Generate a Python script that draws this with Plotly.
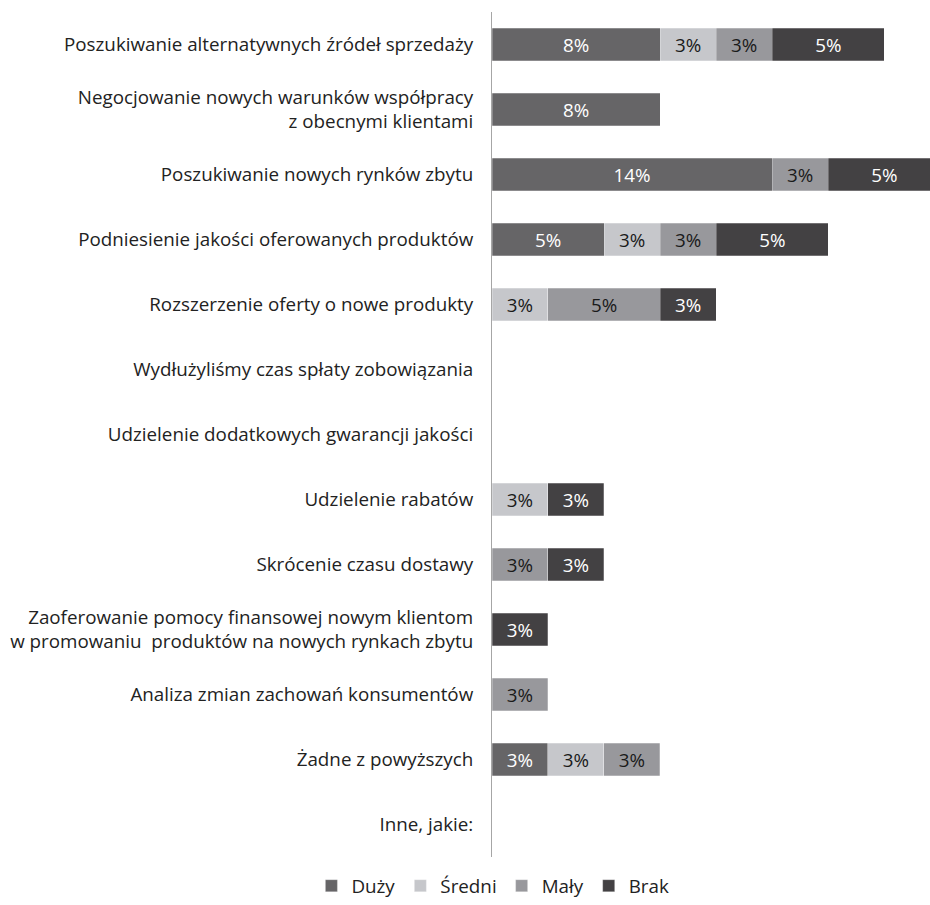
import plotly.graph_objects as go

# Response categories, top to bottom
categories = [
    "Poszukiwanie alternatywnych źródeł sprzedaży",
    "Negocjowanie nowych warunków współpracy<br>z obecnymi klientami",
    "Poszukiwanie nowych rynków zbytu",
    "Podniesienie jakości oferowanych produktów",
    "Rozszerzenie oferty o nowe produkty",
    "Wydłużyliśmy czas spłaty zobowiązania",
    "Udzielenie dodatkowych gwarancji jakości",
    "Udzielenie rabatów",
    "Skrócenie czasu dostawy",
    "Zaoferowanie pomocy finansowej nowym klientom<br>w promowaniu  produktów na nowych rynkach zbytu",
    "Analiza zmian zachowań konsumentów",
    "Żadne z powyższych",
    "Inne, jakie:",
]

# Share of respondents (%) per impact level
duzy =   [8.11, 8.11, 13.51, 5.41, None, None, None, None, None, None, None, 2.70, None]
sredni = [2.70, None, None, 2.70, 2.70, None, None, 2.70, None, None, None, 2.70, None]
maly =   [2.70, None, 2.70, 2.70, 5.41, None, None, None, 2.70, None, 2.70, 2.70, None]
brak =   [5.41, None, 5.41, 5.41, 2.70, None, None, 2.70, 2.70, 2.70, None, None, None]

series = [
    ("Duży", duzy, "#666567", "#ffffff"),
    ("Średni", sredni, "#c6c7cb", "#1a1a1a"),
    ("Mały", maly, "#98989c", "#1a1a1a"),
    ("Brak", brak, "#434143", "#ffffff"),
]

FONT = "Open Sans"
SIZE = 18.8

fig = go.Figure()
for name, vals, color, tcolor in series:
    fig.add_trace(go.Bar(
        name=name,
        y=categories,
        x=vals,
        orientation="h",
        marker=dict(color=color, line=dict(color="rgba(255,255,255,0.5)", width=0.5)),
        texttemplate="%{x:.0f}%",
        textposition="inside",
        insidetextanchor="middle",
        constraintext="none",
        textangle=0,
        insidetextfont=dict(family=FONT, size=SIZE, color=tcolor),
        hoverinfo="skip",
    ))

fig.update_layout(
    barmode="stack",
    bargap=0.5,
    width=930,
    height=905,
    margin=dict(l=492, r=0, t=12, b=48),
    paper_bgcolor="white",
    plot_bgcolor="white",
    font=dict(family=FONT, size=SIZE, color="#222222"),
    xaxis=dict(range=[0, 21.12], visible=False, fixedrange=True),
    yaxis=dict(
        autorange="reversed",
        showline=True,
        linecolor="#a6a6a6",
        linewidth=1,
        ticks="",
        showgrid=False,
        ticklabelstandoff=14,
        tickfont=dict(family=FONT, size=SIZE, color="#222222"),
    ),
    legend=dict(
        orientation="h",
        xref="container",
        x=0.53,
        xanchor="center",
        yref="container",
        y=0.0,
        yanchor="bottom",
        font=dict(family=FONT, size=SIZE, color="#222222"),
        itemwidth=30,
        traceorder="normal",
    ),
    uniformtext=dict(mode=False),
)

fig.write_html("out.html")
